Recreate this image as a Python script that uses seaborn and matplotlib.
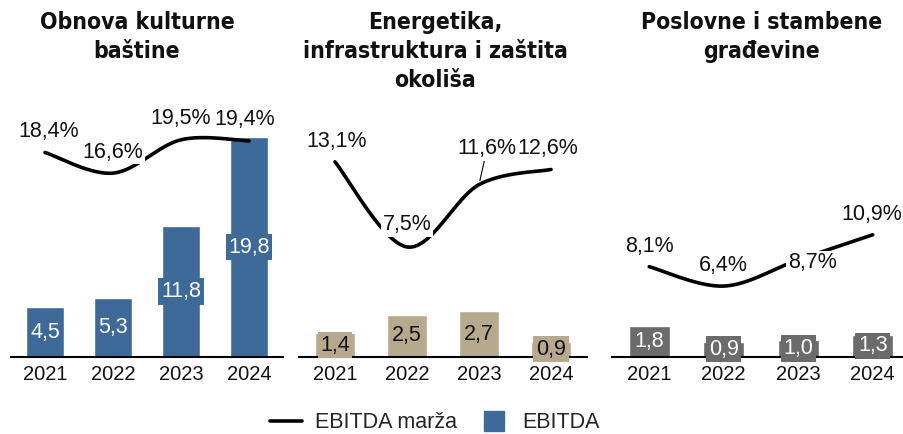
import numpy as np
import pandas as pd
import matplotlib
matplotlib.use("Agg")
import matplotlib.pyplot as plt
import seaborn as sns
from matplotlib.lines import Line2D

# ---------------- data ----------------
years = ["2021", "2022", "2023", "2024"]
titles = ["Obnova kulturne\nbaštine",
          "Energetika,\ninfrastruktura i zaštita\nokoliša",
          "Poslovne i stambene\ngrađevine"]
ebitda_kultura = [4.5, 5.3, 11.8, 19.8]
ebitda_energetika = [1.4, 2.5, 2.7, 0.9]
ebitda_gradevine = [1.8, 0.9, 1.0, 1.3]
marza_kultura = [18.4, 16.6, 19.5, 19.4]
marza_energetika = [13.1, 7.5, 11.6, 12.6]
marza_gradevine = [8.1, 6.4, 8.7, 10.9]
legend_labels = ["EBITDA marža", "EBITDA"]

# ---------------- style / layout ----------------
sns.set_theme(style="white")
plt.rcParams["font.family"] = ["Liberation Sans", "DejaVu Sans"]

W, H = 904, 434
bar_colors = ["#3E6A9A", "#B7A98D", "#6B6B6B"]
label_colors = ["white", "#111111", "white"]
# axes geometry in pixels: (left, width)
ax_px = [(11, 272), (299, 288), (612, 292)]
xlims = [(-0.5, 3.5), (-0.5, 3.5), (-0.5, 3.42)]
ax_top, ax_base = 100, 357
bar_ylims = [(0, 23.15), (0, 15.12), (0, 15.12)]
line_ylims = [(0.61, 22.96), (0.26, 17.17), (0.18, 22.72)]
title_x = [137, 435, 762]
FS = 15.5
# label offsets (pixels) per panel / point
offsets = [
    [(4, 21), (0, 21), (0, 21), (-4, 21)],
    [(2, 20), (0, 22), (8, 36), (-3, 21)],
    [(0, 20), (0, 21), (14, -3), (-1, 20)],
]
leader = [[False] * 4, [False, False, True, False], [False] * 4]


def fmt(v, pct=False):
    s = f"{v:.1f}".replace(".", ",")
    return s + "%" if pct else s


def smooth(y, n=60):
    """Excel-like smoothed line: cubic Bezier segments with Catmull-Rom control points."""
    x = np.arange(len(y), dtype=float)
    y = np.asarray(y, dtype=float)
    P = np.column_stack([x, y])
    Pe = np.vstack([P[0], P, P[-1]])
    out = []
    for i in range(len(P) - 1):
        p0, p1, p2, p3 = Pe[i], Pe[i + 1], Pe[i + 2], Pe[i + 3]
        c1 = p1 + (p2 - p0) / 6.0
        c2 = p2 - (p3 - p1) / 6.0
        t = np.linspace(0, 1, n)[:, None]
        seg = ((1 - t) ** 3) * p1 + 3 * ((1 - t) ** 2) * t * c1 + 3 * (1 - t) * t ** 2 * c2 + t ** 3 * p2
        out.append(seg if i == 0 else seg[1:])
    pts = np.vstack(out)
    return pts[:, 0], pts[:, 1]


fig = plt.figure(figsize=(W / 100, H / 100), dpi=100)

ebitdas = [ebitda_kultura, ebitda_energetika, ebitda_gradevine]
marze = [marza_kultura, marza_energetika, marza_gradevine]

for k in range(3):
    left, width = ax_px[k]
    ax = fig.add_axes([left / W, (H - ax_base) / H, width / W, (ax_base - ax_top) / H])
    df = pd.DataFrame({"godina": years, "EBITDA": ebitdas[k]})
    sns.barplot(data=df, x="godina", y="EBITDA", ax=ax, color=bar_colors[k],
                saturation=1, width=0.55, errorbar=None)
    ax.set_ylim(*bar_ylims[k])
    ax.set_xlim(*xlims[k])
    ax.set_xlabel("")
    ax.set_ylabel("")
    ax.set_yticks([])
    for s in ["left", "right", "top"]:
        ax.spines[s].set_visible(False)
    ax.spines["bottom"].set_color("black")
    ax.spines["bottom"].set_linewidth(1.5)
    ax.tick_params(axis="x", length=0, pad=6, labelsize=14.5, colors="#111111")
    ax.patch.set_alpha(0)

    # bar value labels
    for i, v in enumerate(ebitdas[k]):
        ax.text(i, v / 2, fmt(v), ha="center", va="center", fontsize=FS,
                color=label_colors[k], zorder=5,
                bbox=dict(boxstyle="square,pad=0.12", fc=bar_colors[k], ec="none"))

    # margin line (secondary axis)
    ax2 = ax.twinx()
    xs, ys = smooth(marze[k])
    sns.lineplot(x=xs, y=ys, ax=ax2, color="black", linewidth=2.6, sort=False,
                 estimator=None, zorder=3)
    ax2.set_ylim(*line_ylims[k])
    ax2.set_xlim(*xlims[k])
    ax2.set_yticks([])
    ax2.set_ylabel("")
    for s in ["left", "right", "top", "bottom"]:
        ax2.spines[s].set_visible(False)

    for i, v in enumerate(marze[k]):
        dx, dy = offsets[k][i]
        kw = {}
        if leader[k][i]:
            kw["arrowprops"] = dict(arrowstyle="-", color="black", lw=0.8,
                                    shrinkA=0, shrinkB=3)
        ax2.annotate(fmt(v, True), xy=(i, v), xytext=(dx, dy),
                     textcoords="offset pixels", ha="center", va="center",
                     fontsize=FS, color="#111111", zorder=6,
                     bbox=dict(boxstyle="square,pad=0.08", fc="white", ec="none"),
                     **kw)

    fig.text(title_x[k] / W, 1 - 11 / H, titles[k], ha="center", va="top",
             fontsize=16.5, fontweight="bold", linespacing=1.32,
             family="DejaVu Sans", fontstretch="condensed", color="#111111")

handles = [Line2D([], [], color="black", lw=2.6),
           Line2D([], [], marker="s", ls="none", color=bar_colors[0], markersize=14)]
fig.legend(handles, legend_labels, loc="center", ncol=2, frameon=False,
           bbox_to_anchor=(435 / W, (H - 423) / H), fontsize=FS,
           handlelength=1.5, handletextpad=0.6, columnspacing=0.95)

fig.savefig("out.png", dpi=100)
